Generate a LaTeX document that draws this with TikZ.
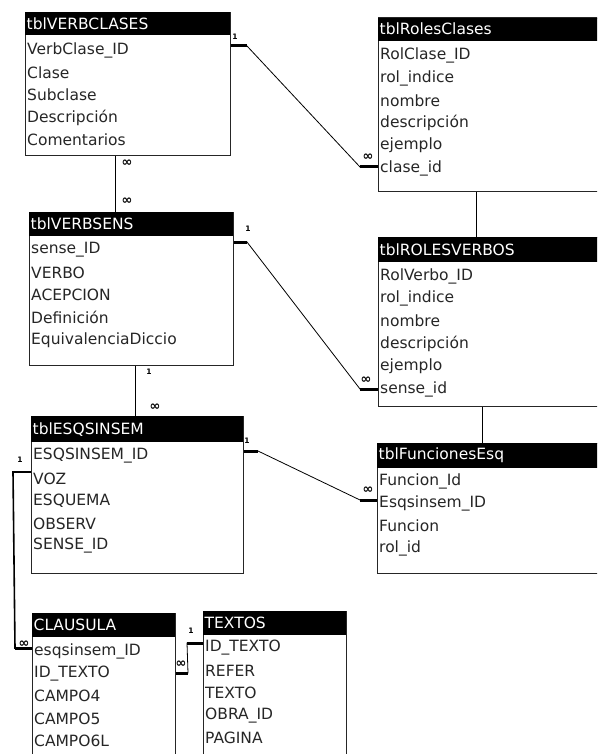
\documentclass[tikz,border=0pt]{standalone}
\usepackage{fontspec}
\setmainfont{DejaVu Sans}
\usetikzlibrary{positioning,calc}

\begin{document}
\begin{tikzpicture}[
    x=1pt, y=-1pt,
    font=\fontsize{15.5}{18}\selectfont,
    tbl/.style={draw=black!85, line width=1.2pt, anchor=north west, inner sep=0pt, fill=white},
    hdr/.style={fill=black, text=white, anchor=north west, align=left, inner xsep=1.5pt, inner ysep=0pt, minimum height=23pt},
    fld/.style={anchor=west, inner sep=0pt, text=black!85},
    rel/.style={draw=black, line width=0.8pt},
    stub/.style={draw=black, line width=3pt},
    card/.style={font=\fontsize{7.5}{8}\selectfont\bfseries, inner sep=0pt},
    many/.style={font=\fontsize{13}{14}\selectfont\bfseries, inner sep=0pt}
  ]
    \path[use as bounding box] (0,0) rectangle (597,754);
    \clip (0,0) rectangle (597,754);

    % tables
    \node[tbl, minimum width=205pt, minimum height=143pt] (vclases) at (25,12) {};
    \node[hdr, text width=202pt] (vclases-h) at (vclases.north west) {tblVERBCLASES};
    \node[fld] (vc1) at (27,50) {VerbClase\_ID};
    \node[fld] (vc2) at (27,72.5) {Clase};
    \node[fld] (vc3) at (27,95) {Subclase};
    \node[fld] (vc4) at (27,117.5) {Descripción};
    \node[fld] (vc5) at (27,140) {Comentarios};

    \node[tbl, minimum width=230pt, minimum height=173.5pt] (rclases) at (378,17.5) {};
    \node[hdr, text width=227pt] (rclases-h) at (rclases.north west) {tblRolesClases};
    \node[fld] (rc1) at (380,55) {RolClase\_ID};
    \node[fld] (rc2) at (380,78) {rol\_indice};
    \node[fld] (rc3) at (380,100.5) {nombre};
    \node[fld] (rc4) at (380,123) {descripción};
    \node[fld] (rc5) at (380,145.5) {ejemplo};
    \node[fld] (rc6) at (380,168) {clase\_id};

    \node[tbl, minimum width=204pt, minimum height=153pt] (verbsens) at (29,212) {};
    \node[hdr, text width=201pt, minimum height=24pt] (verbsens-h) at (verbsens.north west) {tblVERBSENS};
    \node[fld] (vs1) at (31,250) {sense\_ID};
    \node[fld] (vs2) at (31,272.5) {VERBO};
    \node[fld] (vs3) at (31,295) {ACEPCION};
    \node[fld] (vs4) at (31,317.5) {Definición};
    \node[fld] (vs5) at (31,340) {EquivalenciaDiccio};

    \node[tbl, minimum width=230pt, minimum height=169pt] (rverbos) at (378,237) {};
    \node[hdr, text width=227pt, minimum height=25pt] (rverbos-h) at (rverbos.north west) {tblROLESVERBOS};
    \node[fld] (rv1) at (380,276) {RolVerbo\_ID};
    \node[fld] (rv2) at (380,298.5) {rol\_indice};
    \node[fld] (rv3) at (380,321) {nombre};
    \node[fld] (rv4) at (380,343.5) {descripción};
    \node[fld] (rv5) at (380,366) {ejemplo};
    \node[fld] (rv6) at (380,389) {sense\_id};

    \node[tbl, minimum width=212pt, minimum height=157pt] (esq) at (31,416) {};
    \node[hdr, text width=209pt, minimum height=26pt] (esq-h) at (esq.north west) {tblESQSINSEM};
    \node[fld] (es1) at (33,456) {ESQSINSEM\_ID};
    \node[fld] (es2) at (33,478.5) {VOZ};
    \node[fld] (es3) at (33,501) {ESQUEMA};
    \node[fld] (es4) at (33,523.5) {OBSERV};
    \node[fld] (es5) at (33,546) {SENSE\_ID};

    \node[tbl, minimum width=230pt, minimum height=130pt] (funciones) at (377,443) {};
    \node[hdr, text width=227pt, minimum height=25pt] (funciones-h) at (funciones.north west) {tblFuncionesEsq};
    \node[fld] (fu1) at (379,481) {Funcion\_Id};
    \node[fld] (fu2) at (379,503.5) {Esqsinsem\_ID};
    \node[fld] (fu3) at (379,526) {Funcion};
    \node[fld] (fu4) at (379,548.5) {rol\_id};

    \node[tbl, minimum width=143pt, minimum height=150pt] (clausula) at (32,613) {};
    \node[hdr, text width=140pt, minimum height=24pt] (clausula-h) at (clausula.north west) {CLAUSULA};
    \node[fld] (cl1) at (34,651) {esqsinsem\_ID};
    \node[fld] (cl2) at (34,673.5) {ID\_TEXTO};
    \node[fld] (cl3) at (34,696) {CAMPO4};
    \node[fld] (cl4) at (34,718.5) {CAMPO5};
    \node[fld] (cl5) at (34,741) {CAMPO6L};

    \node[tbl, minimum width=143pt, minimum height=150pt] (textos) at (203,611) {};
    \node[hdr, text width=140pt, minimum height=24pt] (textos-h) at (textos.north west) {TEXTOS};
    \node[fld] (tx1) at (205,648) {ID\_TEXTO};
    \node[fld] (tx2) at (205,670.5) {REFER};
    \node[fld] (tx3) at (205,693) {TEXTO};
    \node[fld] (tx4) at (205,715.5) {OBRA\_ID};
    \node[fld] (tx5) at (205,738) {PAGINA};

    % bend points of the relations
    \coordinate (a1) at (247,46);
    \coordinate (a2) at (360,167);
    \coordinate (b1) at (115,180);
    \coordinate (c1) at (247,242);
    \coordinate (c2) at (360,389);
    \coordinate (d1) at (476,210);
    \coordinate (e1) at (135,390);
    \coordinate (f1) at (482,420);
    \coordinate (g1) at (258,451);
    \coordinate (g2) at (360,500);
    \coordinate (h1) at (13,472);
    \coordinate (h2) at (15,648);
    \coordinate (i1) at (188,673);
    \coordinate (i2) at (187,643);

    % relations
    \draw[rel] (vclases.east |- a1) -- (a1) -- (a2) -- (rclases.west |- a2);
    \draw[stub] (vclases.east |- a1) -- (a1);
    \draw[stub] (a2) -- (rclases.west |- a2);
    \draw[rel] (vclases.south -| b1) -- (verbsens.north -| b1);
    \draw[rel] (verbsens.east |- c1) -- (c1) -- (c2) -- (rverbos.west |- c2);
    \draw[stub] (verbsens.east |- c1) -- (c1);
    \draw[stub] (c2) -- (rverbos.west |- c2);
    \draw[rel] (rclases.south -| d1) -- (rverbos.north -| d1);
    \draw[rel] (verbsens.south -| e1) -- (esq.north -| e1);
    \draw[rel] (rverbos.south -| f1) -- (funciones.north -| f1);
    \draw[rel] (esq.east |- g1) -- (g1) -- (g2) -- (funciones.west |- g2);
    \draw[stub] (esq.east |- g1) -- (g1);
    \draw[stub] (g2) -- (funciones.west |- g2);
    \draw[rel, line width=1.6pt] (esq.west |- h1) -- (h1) -- (h2) -- (clausula.west |- h2);
    \draw[stub] (h2) -- (clausula.west |- h2);
    \draw[rel] (clausula.east |- i1) -- (i1) -- (i2) -- (textos.west |- i2);
    \draw[stub] (clausula.east |- i1) -- (i1);
    \draw[stub] (i2) -- (textos.west |- i2);

    % cardinalities
    \node[card] (a1-one) at (235,37) {1};
    \node[many] (a2-many) at (368,157) {∞};
    \node[many] (b1-many) at (127,163) {∞};
    \node[many] (b2-many) at (127,201) {∞};
    \node[card] (c1-one) at (248,229) {1};
    \node[many] (c2-many) at (366,380) {∞};
    \node[card] (e1-one) at (149,372) {1};
    \node[many] (e2-many) at (155,407) {∞};
    \node[card] (g1-one) at (247,441) {1};
    \node[many] (g2-many) at (368,490) {∞};
    \node[card] (h1-one) at (20,460) {1};
    \node[many] (h2-many) at (24,644) {∞};
    \node[many] (i1-many) at (181,664) {∞};
    \node[card] (i2-one) at (191,631) {1};
  \end{tikzpicture}
\end{document}
